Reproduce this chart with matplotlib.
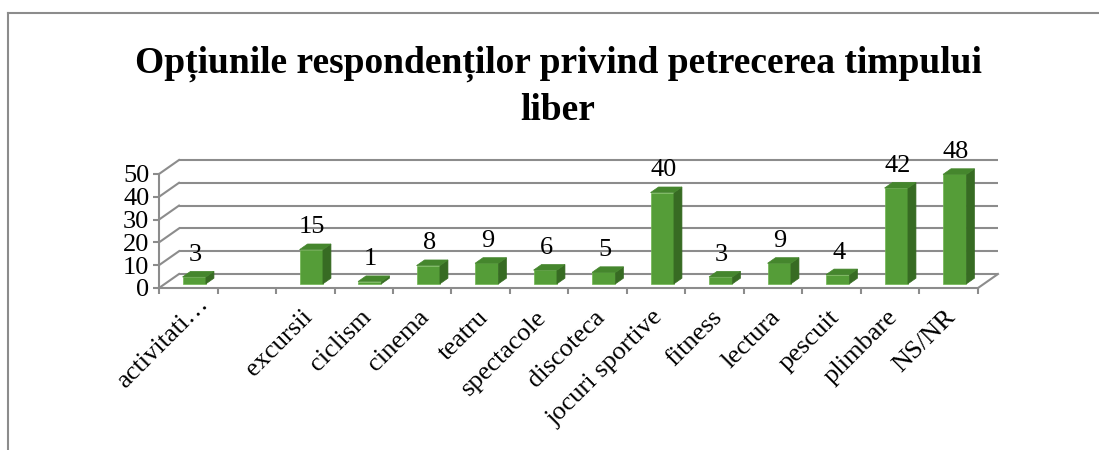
import numpy as np
import matplotlib
matplotlib.use('Agg')
import matplotlib.pyplot as plt
from matplotlib.patches import Polygon
from matplotlib.lines import Line2D
import matplotlib.transforms as mtransforms

# ---- data ----
categories = ['activitati…', '', 'excursii', 'ciclism', 'cinema', 'teatru',
              'spectacole', 'discoteca', 'jocuri sportive', 'fitness',
              'lectura', 'pescuit', 'plimbare', 'NS/NR']
values = [3, np.nan, 15, 1, 8, 9, 6, 5, 40, 3, 9, 4, 42, 48]
yticks = [0, 10, 20, 30, 40, 50]
title = 'Opțiunile respondenților privind petrecerea timpului\nliber'

# ---- styling ----
FONT = 'Liberation Serif'
GRAY = '#8c8c8c'
FRONT = '#559d38'
SIDE = '#376b23'
TOP = '#45862d'

W, H = 1099, 450
fig = plt.figure(figsize=(W / 100, H / 100), dpi=100)
ax = fig.add_axes([159 / W, (H - 288) / H, 819 / W, 114 / H])
n = len(categories)
ax.set_xlim(-0.5, n - 0.5)
ax.set_ylim(0, 50)

# oblique depth offset (data units)
DX = 20 / 58.5
DY = 14 / 2.28
f0, f1 = 0.3, 0.7
bw = 0.4

lw = 1.5
# back wall gridlines and side wall diagonals
for v in yticks:
    ax.plot([-0.5 + DX, n - 0.5 + DX], [v + DY, v + DY], color=GRAY, lw=lw,
            clip_on=False, zorder=1, solid_capstyle='butt')
    ax.plot([-0.5, -0.5 + DX], [v, v + DY], color=GRAY, lw=lw,
            clip_on=False, zorder=1)
ax.plot([n - 0.5, n - 0.5 + DX], [0, DY], color=GRAY, lw=lw, clip_on=False, zorder=1)

# bars
for i, v in enumerate(values):
    if np.isnan(v):
        continue
    xl, xr = i - bw / 2, i + bw / 2
    front = Polygon([(xl + f0 * DX, f0 * DY), (xr + f0 * DX, f0 * DY),
                     (xr + f0 * DX, v + f0 * DY), (xl + f0 * DX, v + f0 * DY)],
                    closed=True, facecolor=FRONT, edgecolor='#6fb44f', lw=0.5,
                    clip_on=False, zorder=3)
    side = Polygon([(xr + f0 * DX, f0 * DY), (xr + f1 * DX, f1 * DY),
                    (xr + f1 * DX, v + f1 * DY), (xr + f0 * DX, v + f0 * DY)],
                   closed=True, facecolor=SIDE, edgecolor=SIDE, lw=0.5,
                   clip_on=False, zorder=3)
    top = Polygon([(xl + f0 * DX, v + f0 * DY), (xr + f0 * DX, v + f0 * DY),
                   (xr + f1 * DX, v + f1 * DY), (xl + f1 * DX, v + f1 * DY)],
                  closed=True, facecolor=TOP, edgecolor=TOP, lw=0.5,
                  clip_on=False, zorder=3)
    for p in (front, side, top):
        ax.add_patch(p)
    ax.annotate(f'{v:g}', (i + 0.35 * DX, v + f1 * DY), xytext=(0, 4),
                textcoords='offset points', ha='center', va='bottom',
                fontsize=19, family=FONT, color='black', zorder=4,
                annotation_clip=False)

# spines
for s in ('top', 'right'):
    ax.spines[s].set_visible(False)
for s in ('left', 'bottom'):
    ax.spines[s].set_color(GRAY)
    ax.spines[s].set_linewidth(lw)
ax.set_facecolor('none')

# y axis
ax.set_yticks(yticks)
ax.set_yticklabels([str(t) for t in yticks], fontsize=19, family=FONT)
ax.tick_params(axis='y', direction='out', length=4, width=lw, color=GRAY, pad=3)

# x axis
ax.set_xticks(range(n))
ax.set_xticklabels(categories, fontsize=19, family=FONT, rotation=45,
                   ha='right', va='top', rotation_mode='anchor')
ax.set_xticks(np.arange(-0.5, n, 1), minor=True)
ax.tick_params(axis='x', which='major', length=0, pad=13)
ax.tick_params(axis='x', which='minor', direction='out', length=4.5, width=lw, color=GRAY)
off = mtransforms.ScaledTranslation(-4 / 100, 0, fig.dpi_scale_trans)
off_first = mtransforms.ScaledTranslation(9 / 100, 13 / 100, fig.dpi_scale_trans)
for k, lab in enumerate(ax.get_xticklabels()):
    lab.set_transform(lab.get_transform() + (off_first if k == 0 else off))

# title
fig.text(558 / W, 1 - 120 / H, title, ha='center', va='baseline', fontsize=27,
         fontweight='bold', family=FONT, linespacing=1.4)

# outer frame (top and left edges)
fig.add_artist(Line2D([8 / W, 8 / W], [0, 1 - 13 / H], color=GRAY, lw=1.5))
fig.add_artist(Line2D([8 / W, 1], [1 - 13 / H, 1 - 13 / H], color=GRAY, lw=1.5))

fig.savefig('out.png', dpi=100)
